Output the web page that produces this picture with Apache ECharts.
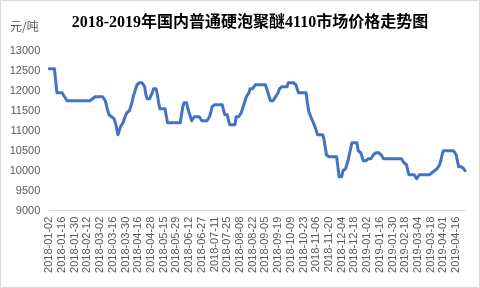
<!DOCTYPE html>
<html>
<head>
<meta charset="utf-8">
<script src="https://cdn.jsdelivr.net/npm/echarts@6/dist/echarts.min.js"></script>
<style>
html,body{margin:0;padding:0;background:#fff;}
#chart{width:480px;height:288px;}
</style>
</head>
<body>
<div id="chart"></div>
<script>
var titleText = '2018-2019年国内普通硬泡聚醚4110市场价格走势图';
var unitText = '元/吨';

var tickLabels = [
  '2018-01-02','2018-01-16','2018-01-30','2018-02-12','2018-03-02','2018-03-16',
  '2018-03-30','2018-04-16','2018-04-28','2018-05-15','2018-05-29','2018-06-12',
  '2018-06-27','2018-07-11','2018-07-25','2018-08-08','2018-08-22','2018-09-05',
  '2018-09-19','2018-10-09','2018-10-23','2018-11-06','2018-11-20','2018-12-04',
  '2018-12-18','2019-01-02','2019-01-16','2019-01-30','2019-02-18','2019-03-04',
  '2019-03-18','2019-04-01','2019-04-16'
];

var prices = [
  12550,12550,12550,12550,12550,12250,11950,11950,11950,11950,
  11950,11950,11850,11800,11750,11750,11750,11750,11750,11750,
  11750,11750,11750,11750,11750,11750,11750,11750,11750,11750,
  11750,11750,11750,11750,11800,11850,11850,11850,11850,11850,
  11850,11850,11850,11800,11750,11750,11500,11400,11350,11350,
  11350,11300,11200,11050,10900,11000,11100,11150,11200,11300,
  11350,11450,11500,11500,11600,11700,11850,11950,12050,12150,
  12200,12200,12200,12200,12200,12100,11900,11800,11800,11800,
  11800,11950,12050,12050,12050,11900,11700,11550,11550,11550,
  11550,11550,11550,11200,11200,11200,11200,11200,11200,11200,
  11200,11200,11200,11200,11200,11600,11700,11700,11700,11550,
  11450,11350,11250,11300,11350,11350,11350,11350,11350,11300,
  11250,11250,11250,11250,11250,11250,11350,11450,11600,11650,
  11650,11650,11650,11650,11650,11650,11650,11650,11400,11400,
  11400,11250,11150,11150,11150,11150,11150,11350,11350,11350,
  11350,11450,11550,11650,11750,11850,11900,11950,12050,12050,
  12050,12100,12150,12150,12150,12150,12150,12150,12150,12150,
  12150,12050,11950,11850,11750,11750,11750,11800,11850,11900,
  11950,12050,12100,12100,12100,12100,12100,12100,12200,12200,
  12200,12200,12200,12200,12150,12050,11950,11950,11950,11950,
  11950,11950,11950,11700,11500,11400,11350,11250,11200,11100,
  11000,10900,10900,10900,10900,10900,10800,10600,10400,10350,
  10350,10350,10350,10350,10350,10350,10350,10350,9850,9800,
  9850,10000,10000,10050,10100,10250,10400,10550,10700,10700,
  10700,10700,10700,10500,10500,10450,10350,10250,10250,10250,
  10250,10300,10300,10300,10350,10400,10450,10450,10450,10450,
  10450,10400,10350,10300,10300,10300,10300,10300,10300,10300,
  10300,10300,10300,10300,10300,10300,10300,10300,10300,10200,
  10150,10150,10000,9900,9900,9900,9900,9900,9850,9800,
  9850,9900,9900,9900,9900,9900,9900,9900,9900,9900,
  9900,9950,10000,10000,10000,10050,10100,10150,10250,10400,
  10500,10500,10500,10500,10500,10500,10500,10500,10500,10450,
  10400,10250,10100,10100,10100,10100,10050,10000
];

var categories = prices.map(function (v, i) { return String(i); });

var chart = echarts.init(document.getElementById('chart'));
chart.setOption({
  animation: false,
  backgroundColor: '#ffffff',
  grid: { left: 49.3, right: 15, top: 50.7, bottom: 77.3, containLabel: false },
  graphic: [
    { type: 'rect', shape: { x: 0.5, y: 0.5, width: 479, height: 287 },
      style: { fill: 'none', stroke: '#d9d9d9', lineWidth: 1 }, silent: true },
    { type: 'text', x: 250, y: 22.5,
      style: { text: titleText, textAlign: 'center', textVerticalAlign: 'middle',
        font: 'bold 16px "Liberation Serif", "Noto Sans CJK SC", serif', fill: '#000000' } },
    { type: 'text', x: 10, y: 26.5,
      style: { text: unitText, textAlign: 'left', textVerticalAlign: 'middle',
        font: '12px "Noto Sans CJK SC", sans-serif', fill: '#595959' } }
  ],
  xAxis: {
    type: 'category',
    data: categories,
    boundaryGap: false,
    axisLine: { show: true, lineStyle: { color: '#d9d9d9', width: 1 } },
    axisTick: { show: false },
    axisLabel: {
      interval: 9,
      rotate: 90,
      margin: 6,
      color: '#595959',
      fontSize: 11,
      fontFamily: '"Liberation Sans", Arial, sans-serif',
      formatter: function (value, index) { return tickLabels[index / 10] || ''; }
    },
    splitLine: { show: false }
  },
  yAxis: {
    type: 'value',
    min: 9000,
    max: 13000,
    interval: 500,
    axisLine: { show: false },
    axisTick: { show: false },
    splitLine: { show: false },
    axisLabel: {
      margin: 9,
      color: '#595959',
      fontSize: 11,
      fontFamily: '"Liberation Sans", Arial, sans-serif',
      formatter: function (v) { return String(v); }
    }
  },
  series: [{
    type: 'line',
    data: prices,
    showSymbol: false,
    symbol: 'none',
    smooth: false,
    lineStyle: { color: '#4472C4', width: 3, cap: 'round', join: 'round' }
  }]
});
</script>
</body>
</html>
